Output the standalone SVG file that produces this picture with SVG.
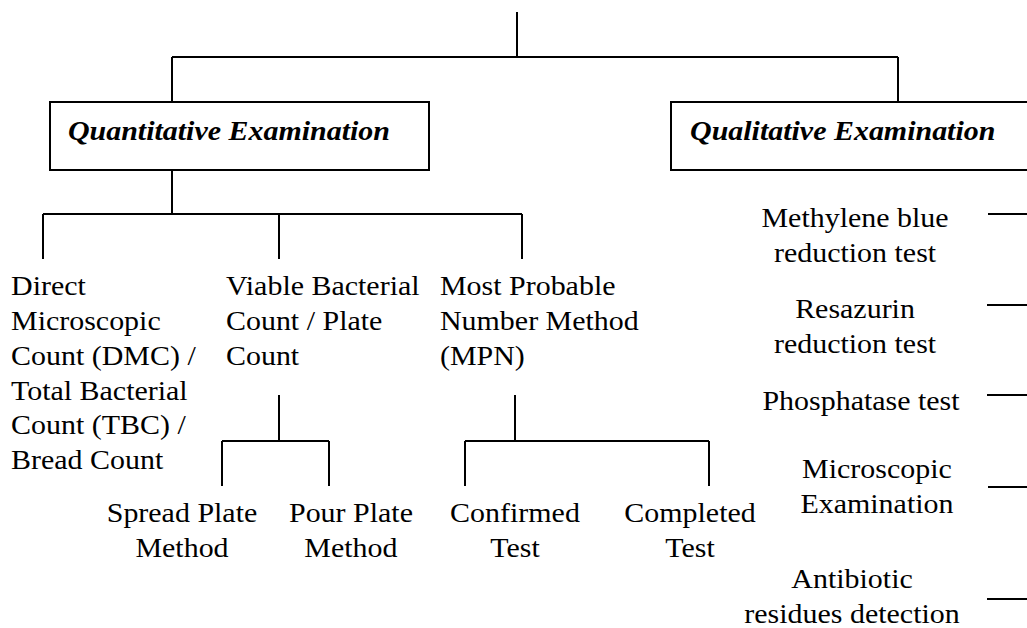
<svg xmlns="http://www.w3.org/2000/svg" width="1027" height="628" viewBox="0 0 1027 628">
<style>
.t{font-family:"Liberation Serif","Times New Roman",serif;font-size:28px;fill:#000}
.h{font-family:"Liberation Serif","Times New Roman",serif;font-size:28px;font-weight:bold;font-style:italic;fill:#000}
.c{text-anchor:middle}
.ln{stroke:#000;stroke-width:2;fill:none}
.box{stroke:#000;stroke-width:2;fill:#fff}
</style>
<rect width="1027" height="628" fill="#fff"/>
<g id="connectors" class="ln">
<path d="M517,12V57M172,57H898M172,57V102M898,57V102"/>
<path d="M172,170V214M43,214H522M43,214V259M279,214V259M522,214V259"/>
<path d="M279,395V441M222,441H329M222,441V486M329,441V486"/>
<path d="M515,395V441M465,441H709M465,441V486M709,441V486"/>
<path d="M988,214H1027M987,305H1027M987,395H1027M988,487H1027M987,599H1027"/>
</g>
<g id="quantitative">
<rect class="box" x="50" y="102" width="379" height="68"/>
<text class="h" transform="scale(1.07,1)" x="63.5" y="140">Quantitative Examination</text>
</g>
<g id="qualitative">
<rect class="box" x="671" y="102" width="380" height="68"/>
<text class="h" transform="scale(1.07,1)" x="644.9" y="140">Qualitative Examination</text>
</g>
<g id="dmc" transform="scale(1.07,1)">
<text class="t" x="10.3" y="295">Direct</text>
<text class="t" x="10.3" y="330">Microscopic</text>
<text class="t" x="10.3" y="365">Count (DMC) /</text>
<text class="t" x="10.3" y="400">Total Bacterial</text>
<text class="t" x="10.3" y="434">Count (TBC) /</text>
<text class="t" x="10.3" y="469">Bread Count</text>
</g>
<g id="viable" transform="scale(1.07,1)">
<text class="t" x="211.2" y="295">Viable Bacterial</text>
<text class="t" x="211.2" y="330">Count / Plate</text>
<text class="t" x="211.2" y="365">Count</text>
</g>
<g id="mpn" transform="scale(1.07,1)">
<text class="t" x="411.2" y="295">Most Probable</text>
<text class="t" x="411.2" y="330">Number Method</text>
<text class="t" x="411.2" y="365">(MPN)</text>
</g>
<g id="spread" transform="scale(1.07,1)">
<text class="t c" x="170.1" y="522">Spread Plate</text>
<text class="t c" x="170.1" y="557">Method</text>
</g>
<g id="pour" transform="scale(1.07,1)">
<text class="t c" x="328" y="522">Pour Plate</text>
<text class="t c" x="328" y="557">Method</text>
</g>
<g id="confirmed" transform="scale(1.07,1)">
<text class="t c" x="481.3" y="522">Confirmed</text>
<text class="t c" x="481.3" y="557">Test</text>
</g>
<g id="completed" transform="scale(1.07,1)">
<text class="t c" x="644.9" y="522">Completed</text>
<text class="t c" x="644.9" y="557">Test</text>
</g>
<g id="methylene" transform="scale(1.07,1)">
<text class="t c" x="799.1" y="227">Methylene blue</text>
<text class="t c" x="799.1" y="262">reduction test</text>
</g>
<g id="resazurin" transform="scale(1.07,1)">
<text class="t c" x="799.1" y="318">Resazurin</text>
<text class="t c" x="799.1" y="353">reduction test</text>
</g>
<g id="phosphatase" transform="scale(1.07,1)">
<text class="t c" x="804.7" y="410">Phosphatase test</text>
</g>
<g id="microscopic" transform="scale(1.07,1)">
<text class="t c" x="819.6" y="478">Microscopic</text>
<text class="t c" x="819.6" y="513">Examination</text>
</g>
<g id="antibiotic" transform="scale(1.07,1)">
<text class="t c" x="796.3" y="588">Antibiotic</text>
<text class="t c" x="796.3" y="623">residues detection</text>
</g>
</svg>
